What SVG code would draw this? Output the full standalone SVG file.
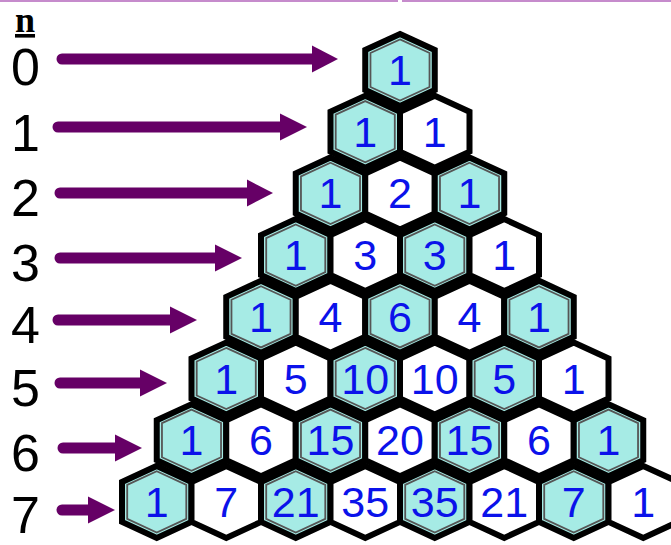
<svg xmlns="http://www.w3.org/2000/svg" xmlns:xlink="http://www.w3.org/1999/xlink" width="671" height="545" viewBox="0 0 671 545">
<style>
.hx{stroke:#000;stroke-width:6;stroke-linejoin:miter}
.c{fill:#a6ebe5}
.w{fill:#fff}
.in{fill:none;stroke:#555;stroke-width:1.8}
.num{font-family:"Liberation Sans",Arial,sans-serif;font-size:43px;fill:#0b12ea;text-anchor:middle}
.lbl{font-family:"Liberation Sans",Arial,sans-serif;font-size:52px;fill:#000}
.arr{stroke:#660066;stroke-width:11;stroke-linecap:round;fill:none}
.head{fill:#660066}
</style>
<defs>
<polygon id="hx" points="0,-36 34.75,-20 34.75,20 0,36 -34.75,20 -34.75,-20"/>
<polygon id="hxi" points="0,-30.6 29.54,-17 29.54,17 0,30.6 -29.54,17 -29.54,-17"/>
</defs>
<rect width="671" height="545" fill="#fff"/>
<line x1="0" y1="1" x2="398" y2="1" stroke="#c68bcc" stroke-width="2"/>
<line x1="402" y1="1" x2="671" y2="1" stroke="#c68bcc" stroke-width="2"/>
<g id="labels">
<text x="15" y="32" font-family="'Liberation Serif',serif" font-weight="bold" font-size="36" text-decoration="underline">n</text>
<text class="lbl" x="11" y="85">0</text>
<text class="lbl" x="11" y="151">1</text>
<text class="lbl" x="11" y="216">2</text>
<text class="lbl" x="11" y="281">3</text>
<text class="lbl" x="11" y="343">4</text>
<text class="lbl" x="11" y="406">5</text>
<text class="lbl" x="11" y="471">6</text>
<text class="lbl" x="11" y="533">7</text>
</g>
<g id="connectors">
<line class="arr" x1="62" y1="59" x2="314" y2="59"/><polygon class="head" points="312,45.5 338,59 312,72.5"/>
<line class="arr" x1="58" y1="127" x2="282" y2="127"/><polygon class="head" points="280,113.5 307,127 280,140.5"/>
<line class="arr" x1="60" y1="193" x2="249" y2="193"/><polygon class="head" points="247,179.5 273,193 247,206.5"/>
<line class="arr" x1="60" y1="258" x2="217" y2="258"/><polygon class="head" points="215,244.5 242,258 215,271.5"/>
<line class="arr" x1="58" y1="320" x2="172" y2="320"/><polygon class="head" points="170,306.5 197,320 170,333.5"/>
<line class="arr" x1="60" y1="383" x2="142" y2="383"/><polygon class="head" points="140,369.5 167,383 140,396.5"/>
<line class="arr" x1="63" y1="448" x2="117" y2="448"/><polygon class="head" points="115,434.5 142,448 115,461.5"/>
<line class="arr" x1="62" y1="510" x2="90" y2="510"/><polygon class="head" points="88,496.5 115,510 88,523.5"/>
</g>
<g id="r0">
<g id="n0_0" transform="translate(400,70)"><use href="#hx" class="hx c"/><use href="#hxi" class="in"/><text class="num" y="15">1</text></g>
</g>
<g id="r1">
<g id="n1_0" transform="translate(365.25,131.7)"><use href="#hx" class="hx c"/><use href="#hxi" class="in"/><text class="num" y="15">1</text></g>
<g id="n1_1" transform="translate(434.75,131.7)"><use href="#hx" class="hx w"/><text class="num" y="15">1</text></g>
</g>
<g id="r2">
<g id="n2_0" transform="translate(330.5,193.4)"><use href="#hx" class="hx c"/><use href="#hxi" class="in"/><text class="num" y="15">1</text></g>
<g id="n2_1" transform="translate(400,193.4)"><use href="#hx" class="hx w"/><text class="num" y="15">2</text></g>
<g id="n2_2" transform="translate(469.5,193.4)"><use href="#hx" class="hx c"/><use href="#hxi" class="in"/><text class="num" y="15">1</text></g>
</g>
<g id="r3">
<g id="n3_0" transform="translate(295.75,255.1)"><use href="#hx" class="hx c"/><use href="#hxi" class="in"/><text class="num" y="15">1</text></g>
<g id="n3_1" transform="translate(365.25,255.1)"><use href="#hx" class="hx w"/><text class="num" y="15">3</text></g>
<g id="n3_2" transform="translate(434.75,255.1)"><use href="#hx" class="hx c"/><use href="#hxi" class="in"/><text class="num" y="15">3</text></g>
<g id="n3_3" transform="translate(504.25,255.1)"><use href="#hx" class="hx w"/><text class="num" y="15">1</text></g>
</g>
<g id="r4">
<g id="n4_0" transform="translate(261,316.8)"><use href="#hx" class="hx c"/><use href="#hxi" class="in"/><text class="num" y="15">1</text></g>
<g id="n4_1" transform="translate(330.5,316.8)"><use href="#hx" class="hx w"/><text class="num" y="15">4</text></g>
<g id="n4_2" transform="translate(400,316.8)"><use href="#hx" class="hx c"/><use href="#hxi" class="in"/><text class="num" y="15">6</text></g>
<g id="n4_3" transform="translate(469.5,316.8)"><use href="#hx" class="hx w"/><text class="num" y="15">4</text></g>
<g id="n4_4" transform="translate(539,316.8)"><use href="#hx" class="hx c"/><use href="#hxi" class="in"/><text class="num" y="15">1</text></g>
</g>
<g id="r5">
<g id="n5_0" transform="translate(226.25,378.5)"><use href="#hx" class="hx c"/><use href="#hxi" class="in"/><text class="num" y="15">1</text></g>
<g id="n5_1" transform="translate(295.75,378.5)"><use href="#hx" class="hx w"/><text class="num" y="15">5</text></g>
<g id="n5_2" transform="translate(365.25,378.5)"><use href="#hx" class="hx c"/><use href="#hxi" class="in"/><text class="num" y="15">10</text></g>
<g id="n5_3" transform="translate(434.75,378.5)"><use href="#hx" class="hx w"/><text class="num" y="15">10</text></g>
<g id="n5_4" transform="translate(504.25,378.5)"><use href="#hx" class="hx c"/><use href="#hxi" class="in"/><text class="num" y="15">5</text></g>
<g id="n5_5" transform="translate(573.75,378.5)"><use href="#hx" class="hx w"/><text class="num" y="15">1</text></g>
</g>
<g id="r6">
<g id="n6_0" transform="translate(191.5,440.2)"><use href="#hx" class="hx c"/><use href="#hxi" class="in"/><text class="num" y="15">1</text></g>
<g id="n6_1" transform="translate(261,440.2)"><use href="#hx" class="hx w"/><text class="num" y="15">6</text></g>
<g id="n6_2" transform="translate(330.5,440.2)"><use href="#hx" class="hx c"/><use href="#hxi" class="in"/><text class="num" y="15">15</text></g>
<g id="n6_3" transform="translate(400,440.2)"><use href="#hx" class="hx w"/><text class="num" y="15">20</text></g>
<g id="n6_4" transform="translate(469.5,440.2)"><use href="#hx" class="hx c"/><use href="#hxi" class="in"/><text class="num" y="15">15</text></g>
<g id="n6_5" transform="translate(539,440.2)"><use href="#hx" class="hx w"/><text class="num" y="15">6</text></g>
<g id="n6_6" transform="translate(608.5,440.2)"><use href="#hx" class="hx c"/><use href="#hxi" class="in"/><text class="num" y="15">1</text></g>
</g>
<g id="r7">
<g id="n7_0" transform="translate(156.75,501.9)"><use href="#hx" class="hx c"/><use href="#hxi" class="in"/><text class="num" y="15">1</text></g>
<g id="n7_1" transform="translate(226.25,501.9)"><use href="#hx" class="hx w"/><text class="num" y="15">7</text></g>
<g id="n7_2" transform="translate(295.75,501.9)"><use href="#hx" class="hx c"/><use href="#hxi" class="in"/><text class="num" y="15">21</text></g>
<g id="n7_3" transform="translate(365.25,501.9)"><use href="#hx" class="hx w"/><text class="num" y="15">35</text></g>
<g id="n7_4" transform="translate(434.75,501.9)"><use href="#hx" class="hx c"/><use href="#hxi" class="in"/><text class="num" y="15">35</text></g>
<g id="n7_5" transform="translate(504.25,501.9)"><use href="#hx" class="hx w"/><text class="num" y="15">21</text></g>
<g id="n7_6" transform="translate(573.75,501.9)"><use href="#hx" class="hx c"/><use href="#hxi" class="in"/><text class="num" y="15">7</text></g>
<g id="n7_7" transform="translate(643.25,501.9)"><use href="#hx" class="hx w"/><text class="num" y="15">1</text></g>
</g>
</svg>
